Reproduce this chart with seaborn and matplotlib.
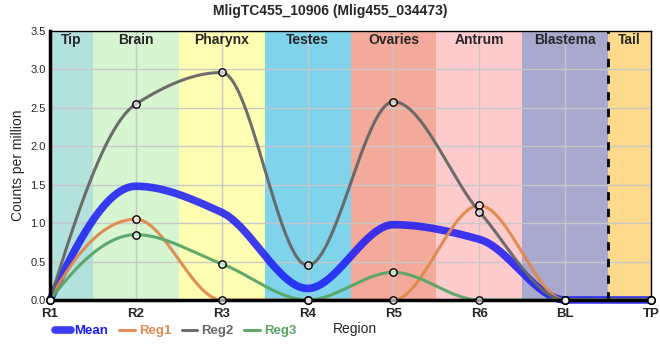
import numpy as np
import pandas as pd
import matplotlib
matplotlib.use("Agg")
import matplotlib.pyplot as plt
import seaborn as sns

regions = ["R1", "R2", "R3", "R4", "R5", "R6", "BL", "TP"]
reg1 = [0.0, 1.05, 0.0, 0.0, 0.0, 1.23, 0.0, 0.0]
reg2 = [0.0, 2.55, 2.96, 0.45, 2.58, 1.15, 0.0, 0.0]
reg3 = [0.0, 0.85, 0.47, 0.0, 0.36, 0.0, 0.0, 0.0]
mean = [0.0, 1.48, 1.14, 0.15, 0.98, 0.79, 0.0, 0.0]

tissues = ["Tip", "Brain", "Pharynx", "Testes", "Ovaries", "Antrum", "Blastema", "Tail"]
tissue_edges = [0, 0.5, 1.5, 2.5, 3.5, 4.5, 5.5, 6.5, 7]
tissue_colors = ["#b3e2dd", "#d7f5d0", "#ffffb4", "#7fd3ea", "#f4aa9b",
                 "#fdcbcb", "#a9a8cf", "#fedb8c"]

series_colors = {"Mean": "#1a1af5", "Reg1": "#e0894c", "Reg2": "#666666", "Reg3": "#56a567"}


def pchip(x, y, xs):
    """Monotone cubic (Fritsch-Carlson) interpolation, plain numpy."""
    x = np.asarray(x, float)
    y = np.asarray(y, float)
    h = np.diff(x)
    d = np.diff(y) / h
    n = len(x)
    m = np.zeros(n)
    for k in range(1, n - 1):
        if d[k - 1] * d[k] > 0:
            w1 = 2 * h[k] + h[k - 1]
            w2 = h[k] + 2 * h[k - 1]
            m[k] = (w1 + w2) / (w1 / d[k - 1] + w2 / d[k])

    def end(h0, h1, d0, d1):
        v = ((2 * h0 + h1) * d0 - h0 * d1) / (h0 + h1)
        if np.sign(v) != np.sign(d0):
            return 0.0
        if np.sign(d0) != np.sign(d1) and abs(v) > abs(3 * d0):
            return 3 * d0
        return v

    m[0] = end(h[0], h[1], d[0], d[1])
    m[-1] = end(h[-1], h[-2], d[-1], d[-2])
    idx = np.clip(np.searchsorted(x, xs) - 1, 0, n - 2)
    t = (xs - x[idx]) / h[idx]
    h00 = 2 * t**3 - 3 * t**2 + 1
    h10 = t**3 - 2 * t**2 + t
    h01 = -2 * t**3 + 3 * t**2
    h11 = t**3 - t**2
    return (h00 * y[idx] + h10 * h[idx] * m[idx]
            + h01 * y[idx + 1] + h11 * h[idx] * m[idx + 1])


pos = np.arange(len(regions))
xs = np.linspace(0, len(regions) - 1, 600)
series = {"Mean": mean, "Reg1": reg1, "Reg2": reg2, "Reg3": reg3}

curves = pd.concat(
    [pd.DataFrame({"x": xs, "y": np.clip(pchip(pos, v, xs), 0, None), "series": k})
     for k, v in series.items()],
    ignore_index=True,
)
points = pd.concat(
    [pd.DataFrame({"x": pos, "y": v, "series": k})
     for k, v in series.items() if k != "Mean"],
    ignore_index=True,
)

sns.set_style("white")
plt.rcParams["font.family"] = ["Liberation Sans", "DejaVu Sans"]

fig = plt.figure(figsize=(6.6, 3.6), dpi=100)
ax = fig.add_axes([0.0758, 0.1667, 0.9106, 0.7472])

for lo, hi, c, name in zip(tissue_edges[:-1], tissue_edges[1:], tissue_colors, tissues):
    ax.axvspan(lo, hi, color=c, lw=0, zorder=0)
    ax.text((lo + hi) / 2, 3.47, name, ha="center", va="top",
            fontsize=10, fontweight="bold", zorder=5)
ax.axvline(6.5, color="black", ls=(0, (3, 3)), lw=2, zorder=4)

ax.grid(True, color="#c8c8c8", lw=1, zorder=1)
ax.set_axisbelow(False)

sns.lineplot(data=curves[curves.series == "Mean"], x="x", y="y", ax=ax,
             color=series_colors["Mean"], lw=5.5, alpha=0.85, zorder=3, label="Mean",
             clip_on=False)
for k in ["Reg1", "Reg2", "Reg3"]:
    sns.lineplot(data=curves[curves.series == k], x="x", y="y", ax=ax,
                 color=series_colors[k], lw=2.2, alpha=0.95, zorder=3, label=k,
                 clip_on=False)
sns.scatterplot(data=points, x="x", y="y", ax=ax, s=28, facecolor="#ffffffa0",
                edgecolor="black", linewidth=1, zorder=6, legend=False, clip_on=False)

ax.set_xlim(0, 7)
ax.set_ylim(0, 3.5)
ax.set_xticks(pos)
ax.set_xticklabels(regions, fontsize=9.5, fontweight="bold")
ax.set_yticks(np.arange(0, 3.51, 0.5))
ax.set_yticklabels([f"{v:.1f}" for v in np.arange(0, 3.51, 0.5)], fontsize=8)
ax.tick_params(axis="x", length=0, pad=6)
ax.tick_params(axis="y", length=0, pad=3)
ax.set_xlabel("")
ax.set_ylabel("Counts per million", fontsize=10)
for s in ax.spines.values():
    s.set_color("black")
    s.set_linewidth(1)
    s.set_zorder(5)
ax.spines["bottom"].set_linewidth(2.5)
ax.spines["left"].set_linewidth(2.5)

handles, labels = ax.get_legend_handles_labels()
ax.get_legend().remove()
leg = fig.legend(handles, labels, loc="lower left", bbox_to_anchor=(0.065, 0.03),
                 ncol=4, frameon=False, prop={"size": 9.5, "weight": "bold"},
                 handlelength=1.2, handletextpad=0.3, columnspacing=0.8,
                 labelcolor=[series_colors[l] for l in labels])
fig.text(0.538, 0.085, "Region", ha="center", va="center", fontsize=10)

fig.suptitle("MligTC455_10906 (Mlig455_034473)", fontsize=10, fontweight="bold", y=0.99)
fig.savefig("out.png", dpi=100)
